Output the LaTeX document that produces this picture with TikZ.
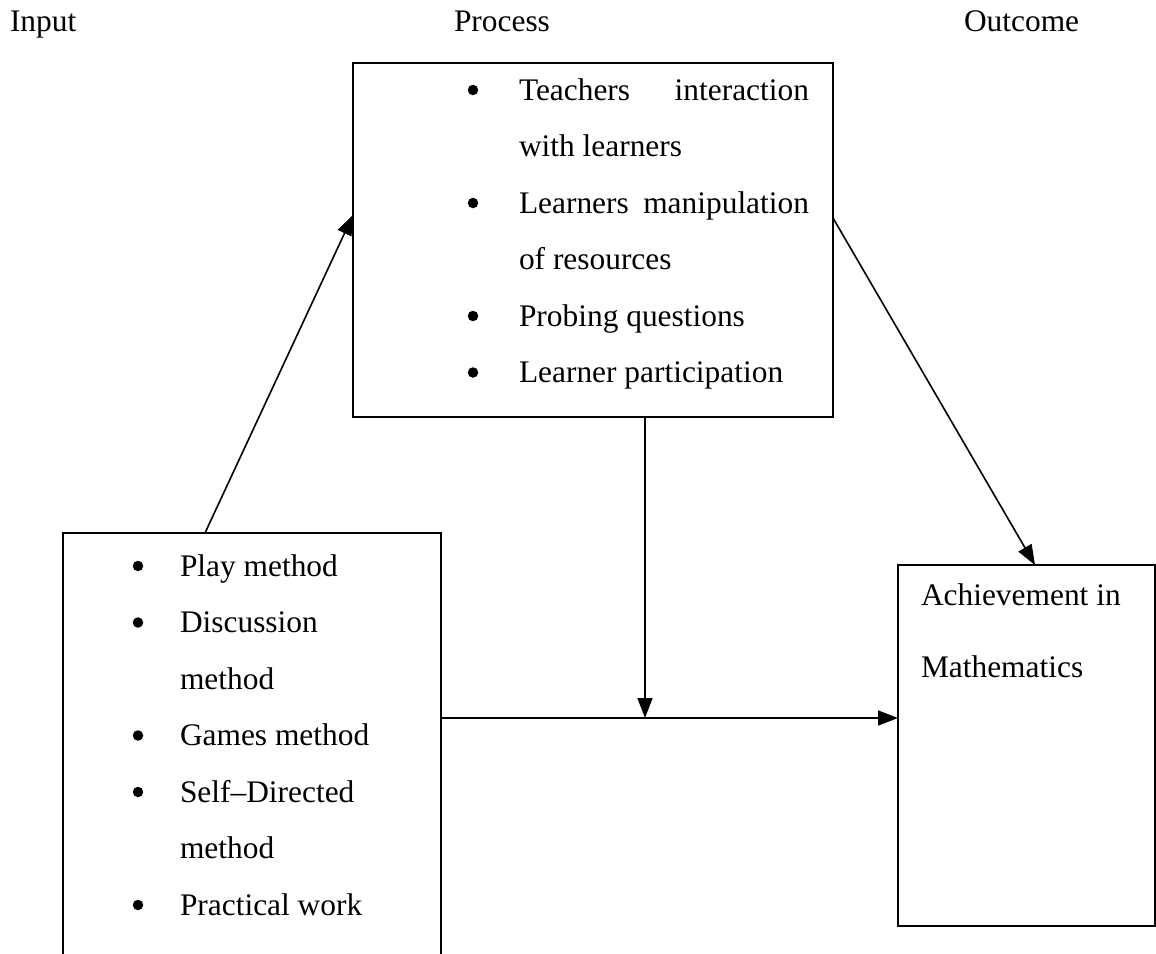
\documentclass[tikz,border=0pt]{standalone}
\usepackage{fontspec}
\setmainfont{Liberation Serif}
\usetikzlibrary{arrows.meta,calc}
\begin{document}
\begin{tikzpicture}[x=1pt,y=-1pt,
  line width=2pt,
  boxstyle/.style={draw,rectangle,inner sep=0pt,outer sep=0pt,anchor=north west},
  txt/.style={anchor=base west,inner sep=0pt,font=\fontsize{31.4}{37}\selectfont},
  txte/.style={anchor=base east,inner sep=0pt,font=\fontsize{31.4}{37}\selectfont},
  bul/.style={circle,fill,inner sep=0pt,minimum size=10.5pt},
  arr/.style={-{Triangle[length=20pt,width=15pt]},line width=1.6pt}]
\clip (0,0) rectangle (1156,953);
\fill[white] (0,0) rectangle (1156,953);
% headers
\node[txt] (hin) at (9,31) {Input};
\node[txt] (hpr) at (453,31) {Process};
\node[txt] (hout) at (963,31) {Outcome};
% boxes
\node[boxstyle,minimum width=480pt,minimum height=354pt] (proc) at (353,63) {};
\node[boxstyle,minimum width=378pt,minimum height=500pt] (in) at (63,533) {};
\node[boxstyle,minimum width=257pt,minimum height=361pt] (out) at (898,565) {};
% process items
\node[bul] (pb1) at (473,90) {};
\node[txt] (p1a) at (518,100) {Teachers};
\node[txte] (p1b) at (810,100) {interaction};
\node[txt] (p1c) at (518,156.5) {with learners};
\node[bul] (pb2) at (473,203) {};
\node[txt] (p2a) at (518,213) {Learners};
\node[txte] (p2b) at (810,213) {manipulation};
\node[txt] (p2c) at (518,269.5) {of resources};
\node[bul] (pb3) at (473,316) {};
\node[txt] (p3) at (518,326) {Probing questions};
\node[bul] (pb4) at (473,372.5) {};
\node[txt] (p4) at (518,382.5) {Learner participation};
% input items
\node[bul] (ib1) at (138,566) {};
\node[txt] (i1) at (179,576) {Play method};
\node[bul] (ib2) at (138,622.5) {};
\node[txt] (i2) at (179,632.5) {Discussion};
\node[txt] (i2b) at (179,689) {method};
\node[bul] (ib3) at (138,735.5) {};
\node[txt] (i3) at (179,745.5) {Games method};
\node[bul] (ib4) at (138,792) {};
\node[txt] (i4) at (179,802) {Self–Directed};
\node[txt] (i4b) at (179,858.5) {method};
\node[bul] (ib5) at (138,905) {};
\node[txt] (i5) at (179,915) {Practical work};
% outcome
\node[txt] (o1) at (920,605) {Achievement in};
\node[txt] (o2) at (920,677) {Mathematics};
% connectors
\coordinate (j) at ($(proc.south)+(52,0)$);
\coordinate (jj) at (645,718);
\draw[arr] ($(in.north west)+(142,0)$) -- ($(proc.north west)+(0,152)$);
\draw[arr] ($(proc.north east)+(0,155)$) -- ($(out.north west)+(137,0)$);
\draw[arr] (j) -- (j |- jj);
\draw[arr] (in.east |- jj) -- (out.west |- jj);
\end{tikzpicture}
\end{document}
